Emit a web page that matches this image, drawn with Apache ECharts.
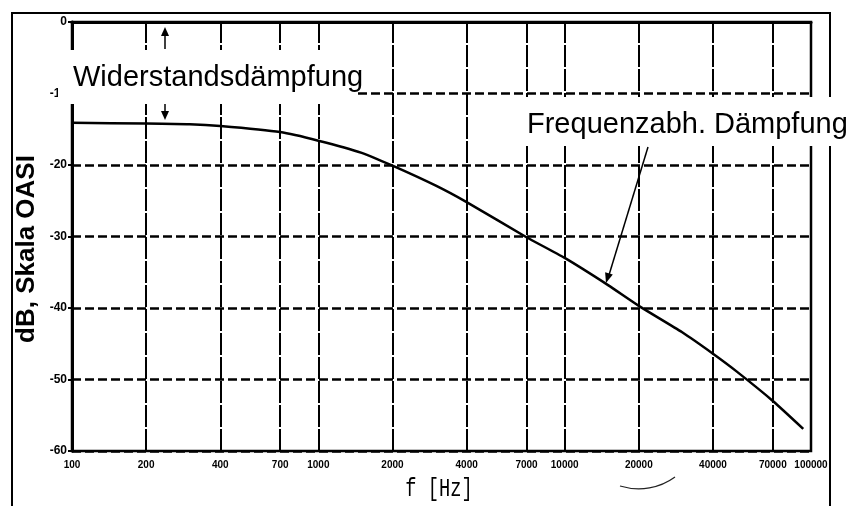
<!DOCTYPE html>
<html><head><meta charset="utf-8">
<script src="https://cdn.jsdelivr.net/npm/echarts@6/dist/echarts.min.js"></script>
<style>html,body{margin:0;padding:0;background:#fff}#c{width:855px;height:506px}</style>
</head><body><div id="c"></div>
<script>
// frequency [Hz] and attenuation [dB]
const freqs = [100, 200, 300, 400, 700, 1000, 1500, 2000, 3000, 4000, 7000, 10000, 15000, 20000, 30000, 40000, 50000, 70000, 93000];
const dampingDb = [-14.1, -14.2, -14.3, -14.55, -15.4, -16.6, -18.3, -20.1, -22.9, -25.2, -30.1, -33.0, -36.8, -39.7, -43.4, -46.4, -48.9, -53.0, -56.9];
const xTicks = [100, 200, 400, 700, 1000, 2000, 4000, 7000, 10000, 20000, 40000, 70000, 100000];
const yTicks = [0, -10, -20, -30, -40, -50, -60];
const labelResistance = 'Widerstandsdämpfung';
const labelFreq = 'Frequenzabh. Dämpfung';
const xName = 'f [Hz]';
const yName = 'dB, Skala OASI';

const chart = echarts.init(document.getElementById('c'), null, {renderer: 'canvas'});
const curve = freqs.map((f, i) => [f, dampingDb[i]]);
const option = {
  animation: false,
  backgroundColor: '#fff',
  grid: {left: 72, right: 44, top: 22, bottom: 55, show: true, borderColor: '#000', borderWidth: 2.5},
  xAxis: {
    type: 'log', logBase: 10, min: xTicks[0], max: xTicks[xTicks.length - 1],
    axisLine: {show: true, lineStyle: {color: '#000', width: 3}},
    axisTick: {show: false}, axisLabel: {show: false}, splitLine: {show: false}, minorSplitLine: {show: false}
  },
  yAxis: {
    type: 'value', min: yTicks[yTicks.length - 1], max: yTicks[0], interval: 10,
    axisLine: {show: true, lineStyle: {color: '#000', width: 3}},
    axisTick: {show: true, length: 4, lineStyle: {color: '#000', width: 2}},
    axisLabel: {color: '#000', fontWeight: 'bold', fontSize: 12, margin: 5, fontFamily: 'Liberation Sans'},
    splitLine: {show: true, lineStyle: {color: '#000', width: 2.5, type: [9, 4]}}
  },
  series: [{
    type: 'line', data: curve, showSymbol: false, symbol: 'none',
    smooth: 0.2,
    lineStyle: {color: '#000', width: 2.5, join: 'round'}, z: 5,
    markLine: {
      silent: true, symbol: ['none', 'none'], z: 3,
      lineStyle: {color: '#000', width: 2, type: [22, 2]},
      label: {show: true, position: 'start', distance: 9, color: '#000', fontWeight: 'bold', fontSize: 10,
        fontFamily: 'Liberation Sans', formatter: p => String(p.data.xAxis !== undefined ? p.data.xAxis : p.value)},
      data: xTicks.map(v => ({xAxis: v}))
    }
  }],
  graphic: [
    {type: 'polyline', z: 1, shape: {points: [[12, 506], [12, 13], [830, 13], [830, 506]]}, style: {stroke: '#000', lineWidth: 2, fill: null}},
    {type: 'rect', z: 100, shape: {x: 58, y: 50, width: 298, height: 54}, style: {fill: '#fff'}},
    {type: 'rect', z: 100, shape: {x: 520, y: 97, width: 335, height: 49}, style: {fill: '#fff'}},
    {type: 'text', z: 101, x: 73, y: 78, style: {text: labelResistance, fontSize: 29, fontFamily: 'Liberation Sans', fill: '#000', align: 'left', verticalAlign: 'middle'}},
    {type: 'text', z: 101, x: 527, y: 125, style: {text: labelFreq, fontSize: 29, fontFamily: 'Liberation Sans', fill: '#000', align: 'left', verticalAlign: 'middle'}},
    {type: 'line', z: 101, shape: {x1: 165, y1: 49, x2: 165, y2: 34}, style: {stroke: '#000', lineWidth: 1.5}},
    {type: 'polygon', z: 101, shape: {points: [[165, 27], [161, 36], [169, 36]]}, style: {fill: '#000'}},
    {type: 'line', z: 101, shape: {x1: 165, y1: 104, x2: 165, y2: 112}, style: {stroke: '#000', lineWidth: 1.5}},
    {type: 'polygon', z: 101, shape: {points: [[165, 120], [161, 111], [169, 111]]}, style: {fill: '#000'}},
    {type: 'line', z: 101, shape: {x1: 648, y1: 147, x2: 609, y2: 275}, style: {stroke: '#000', lineWidth: 1.5}},
    {type: 'polygon', z: 101, shape: {points: [[606, 283], [612.8, 274.6], [605.1, 272.3]]}, style: {fill: '#000'}},
    {type: 'text', z: 101, x: 439, y: 489, scaleX: 0.72, style: {text: xName, fontSize: 26, fontFamily: 'Liberation Mono', fill: '#000', align: 'center', verticalAlign: 'middle'}},
    {type: 'text', z: 101, x: 27, y: 249, rotation: Math.PI / 2, style: {text: yName, fontSize: 26, fontWeight: 'bold', fontFamily: 'Liberation Sans', fill: '#000', align: 'center', verticalAlign: 'middle'}},
    {type: 'bezierCurve', z: 101, shape: {x1: 620, y1: 486, cpx1: 640, cpy1: 492, cpx2: 660, cpy2: 488, x2: 675, y2: 477}, style: {stroke: '#222', lineWidth: 1.2, fill: null}}
  ]
};
chart.setOption(option);
</script></body></html>
